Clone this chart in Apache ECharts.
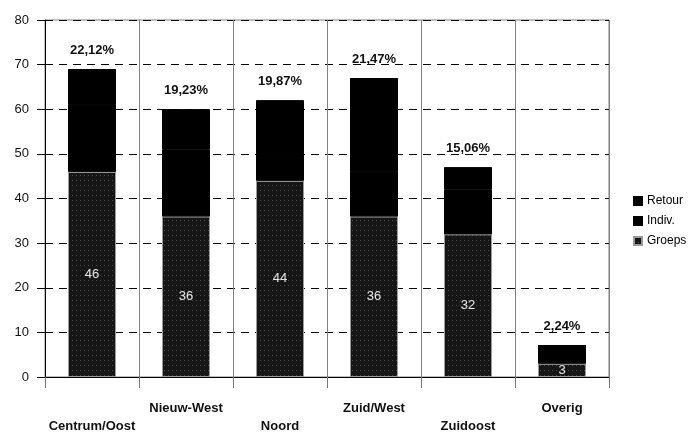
<!DOCTYPE html>
<html>
<head>
<meta charset="utf-8">
<script src="https://cdn.jsdelivr.net/npm/echarts@6/dist/echarts.min.js"></script>
<style>
  html, body { margin: 0; padding: 0; background: #fff; }
  #chart { width: 693px; height: 432px; }
</style>
</head>
<body>
<div id="chart"></div>
<script>
// gegevens per stadsdeel
var regios = ['Centrum/Oost', 'Nieuw-West', 'Noord', 'Zuid/West', 'Zuidoost', 'Overig']
var groeps = [46, 36, 44, 36, 32, 3]
var indiv = [15, 15, 6, 10, 10, 4]
var retour = [8, 9, 12, 21, 5, 0]
var percentages = ['22,12%', '19,23%', '19,87%', '21,47%', '15,06%', '2,24%']
var yTicks = [0, 10, 20, 30, 40, 50, 60, 70, 80]

var font = 'Liberation Sans, Arial, sans-serif'
var noDecal = { symbol: 'none' }

var myChart = echarts.init(document.getElementById('chart'))
myChart.setOption({
  animation: false,
  aria: { enabled: true, decal: { show: true } },
  textStyle: { fontFamily: font },
  grid: {
    left: 45, right: 84, top: 20, bottom: 55,
    outerBoundsMode: 'none',
    show: true, borderColor: '#808080', borderWidth: 1
  },
  legend: {
    orient: 'vertical',
    left: 628,
    top: 190,
    icon: 'rect',
    itemWidth: 8,
    itemHeight: 8,
    itemGap: 8,
    data: ['Retour', 'Indiv.', 'Groeps'],
    textStyle: { fontSize: 12, color: '#000', fontFamily: font }
  },
  xAxis: {
    type: 'category',
    data: regios,
    boundaryGap: true,
    axisLine: { lineStyle: { color: '#000', width: 1 } },
    axisTick: { show: true, length: 11, interval: 0, lineStyle: { color: '#777' } },
    splitLine: { show: true, interval: 0, lineStyle: { color: '#808080', width: 1 } },
    axisLabel: {
      interval: 0,
      margin: 22,
      lineHeight: 18,
      fontSize: 13,
      fontWeight: 'bold',
      color: '#111',
      formatter: function (v, i) {
        return i % 2 === 0 ? '\n' + v : v
      }
    }
  },
  yAxis: {
    type: 'value',
    min: yTicks[0],
    max: yTicks[yTicks.length - 1],
    interval: 10,
    axisLine: { show: true, lineStyle: { color: '#000', width: 1 } },
    axisTick: { show: true, length: 8, lineStyle: { color: '#000' } },
    axisLabel: { fontSize: 13, color: '#111', margin: 16 },
    splitLine: { show: true, lineStyle: { color: '#000', type: [8, 6], width: 1 } }
  },
  series: [
    {
      name: 'Groeps',
      type: 'bar',
      stack: 'totaal',
      barWidth: 48,
      data: groeps,
      itemStyle: {
        color: '#161616',
        borderColor: '#9a9a9a',
        borderWidth: 1,
        decal: {
          symbol: 'rect',
          symbolSize: 1,
          color: 'rgba(255,255,255,0.22)',
          dashArrayX: [1, 3],
          dashArrayY: [1, 4],
          rotation: 0
        }
      },
      label: {
        show: true,
        position: 'inside',
        fontSize: 13,
        color: '#e6e6e6',
        textBorderColor: '#222',
        textBorderWidth: 1
      }
    },
    {
      name: 'Indiv.',
      type: 'bar',
      stack: 'totaal',
      barWidth: 48,
      data: indiv,
      itemStyle: { color: '#000', borderColor: '#000', borderWidth: 1, decal: noDecal }
    },
    {
      name: 'Retour',
      type: 'bar',
      stack: 'totaal',
      barWidth: 48,
      data: retour,
      itemStyle: { color: '#000', borderColor: '#000', borderWidth: 1, decal: noDecal },
      label: {
        show: true,
        position: 'top',
        distance: 12,
        fontSize: 13,
        fontWeight: 'bold',
        color: '#111',
        formatter: function (p) {
          return percentages[p.dataIndex]
        }
      }
    }
  ]
})
</script>
</body>
</html>
